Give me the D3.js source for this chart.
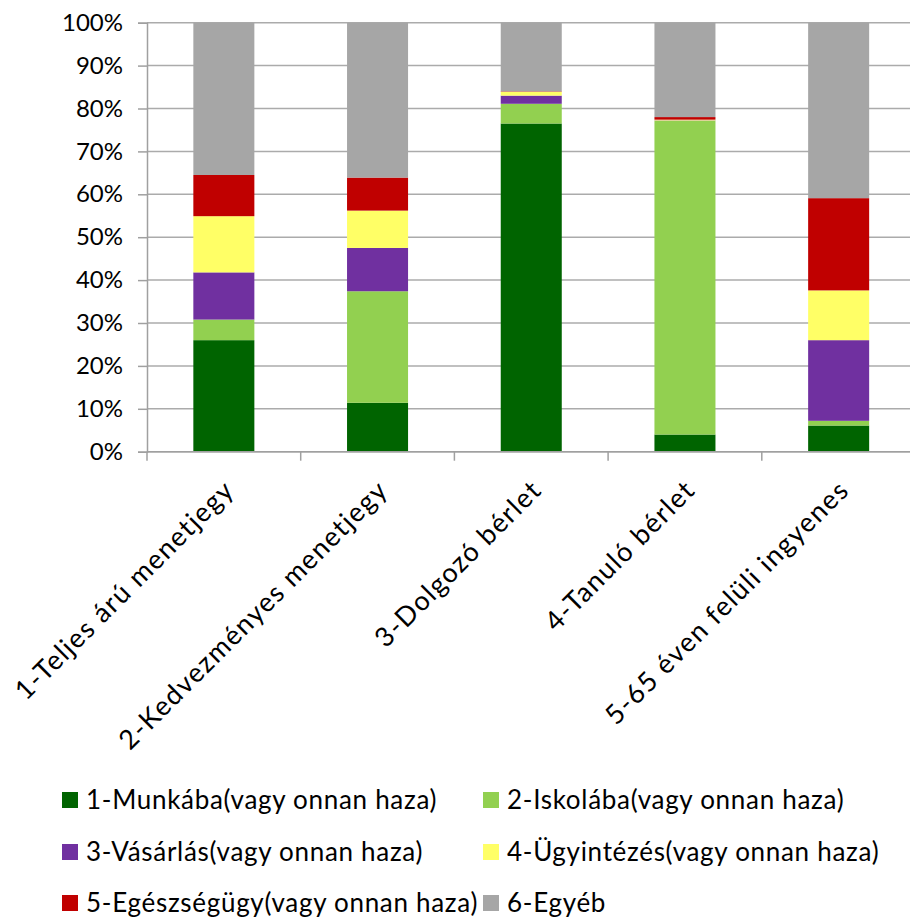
<!DOCTYPE html>
<html>
<head>
<meta charset="utf-8">
<script src="https://cdn.jsdelivr.net/npm/d3@7"></script>
<style>
  html, body { margin: 0; padding: 0; background: #fff; }
  svg { display: block; }
  text { font-family: Lato, "Liberation Sans", sans-serif; fill: #000; }
</style>
</head>
<body>
<svg id="chart" width="910" height="917"></svg>
<script>
const categories = ["1-Teljes árú menetjegy", "2-Kedvezményes menetjegy", "3-Dolgozó bérlet", "4-Tanuló bérlet", "5-65 éven felüli ingyenes"];
const seriesNames = ["1-Munkába(vagy onnan haza)", "2-Iskolába(vagy onnan haza)", "3-Vásárlás(vagy onnan haza)", "4-Ügyintézés(vagy onnan haza)", "5-Egészségügy(vagy onnan haza)", "6-Egyéb"];
const munka      = [26.0, 11.4, 76.5,  4.0,  6.1];
const iskola     = [ 4.8, 26.0,  4.6, 73.1,  1.1];
const vasarlas   = [11.0, 10.1,  1.9,  0.1, 18.8];
const ugyintezes = [13.1,  8.7,  0.9,  0.2, 11.6];
const egeszseg   = [ 9.6,  7.7,  0.1,  0.6, 21.5];
const egyeb      = [35.5, 36.1, 16.0, 22.0, 40.9];
const yTicks = [0, 10, 20, 30, 40, 50, 60, 70, 80, 90, 100];
const colors = ["#006400", "#92D050", "#7030A0", "#FFFF66", "#C00000", "#A6A6A6"];

(function () {
const seriesValues = [munka, iskola, vasarlas, ugyintezes, egeszseg, egyeb];
const rows = categories.map((c, i) => {
  const r = { cat: c };
  seriesNames.forEach((s, j) => r[s] = seriesValues[j][i]);
  return r;
});

const svg = d3.select("#chart");
const mLeft = 147, mRight = 915.5, mTop = 22.7, mBottom = 451.7;

const x = d3.scaleBand().domain(categories).range([mLeft, mRight]).paddingInner(0.603).paddingOuter(0.3015);
const y = d3.scaleLinear().domain([0, 100]).range([mBottom, mTop]);

// gridlines
svg.append("g").selectAll("line").data(yTicks).join("line")
  .attr("x1", mLeft).attr("x2", 910)
  .attr("y1", d => y(d)).attr("y2", d => y(d))
  .attr("stroke", "#ababab").attr("stroke-width", 1.5);

// stacked bars
const stacked = d3.stack().keys(seriesNames)(rows);
svg.append("g").selectAll("g").data(stacked).join("g")
  .attr("fill", (d, i) => colors[i])
  .selectAll("rect").data(d => d).join("rect")
  .attr("x", d => x(d.data.cat))
  .attr("width", x.bandwidth())
  .attr("y", d => y(d[1]))
  .attr("height", d => y(d[0]) - y(d[1]));

// y axis
const yAxis = d3.axisLeft(y).tickValues(yTicks).tickFormat(d => d + "%").tickSize(9).tickPadding(15);
const gy = svg.append("g").attr("transform", `translate(${mLeft},0)`).call(yAxis);
gy.select(".domain").attr("stroke", "#a0a0a0").attr("stroke-width", 1.5);
gy.selectAll(".tick line").attr("stroke", "#a0a0a0").attr("stroke-width", 1.5);
gy.selectAll(".tick text").style("font-size", "24px").style("font-family", "Lato, 'Liberation Sans', sans-serif").attr("fill", "#000");

// x axis line with boundary ticks
const step = x.step();
const boundaries = d3.range(categories.length + 1).map(i => mLeft + i * step);
svg.append("line").attr("x1", mLeft).attr("x2", 910).attr("y1", mBottom).attr("y2", mBottom)
  .attr("stroke", "#a0a0a0").attr("stroke-width", 1.5);
svg.append("g").selectAll("line").data(boundaries).join("line")
  .attr("x1", d => d).attr("x2", d => d).attr("y1", mBottom).attr("y2", mBottom + 9)
  .attr("stroke", "#a0a0a0").attr("stroke-width", 1.5);

// x labels
svg.append("g").selectAll("text").data(categories).join("text")
  .attr("transform", d => `translate(${x(d) + x.bandwidth() / 2 + 12},${mBottom + 40}) rotate(-45)`)
  .attr("text-anchor", "end")
  .style("font-size", "27px")
  .style("letter-spacing", "1.4px")
  .text(d => d);

// legend
const legendPos = [[62, 800], [483, 800], [62, 852], [483, 852], [62, 903], [483, 903]];
const lg = svg.append("g").selectAll("g").data(seriesNames).join("g")
  .attr("transform", (d, i) => `translate(${legendPos[i][0]},${legendPos[i][1]})`);
lg.append("rect").attr("x", 0).attr("y", -8).attr("width", 16).attr("height", 16)
  .attr("fill", (d, i) => colors[i]);
lg.append("text").attr("x", 24).attr("y", 0).attr("dy", "0.35em")
  .style("font-size", "26px").style("letter-spacing", "0.7px").text(d => d);
})();
</script>
</body>
</html>
